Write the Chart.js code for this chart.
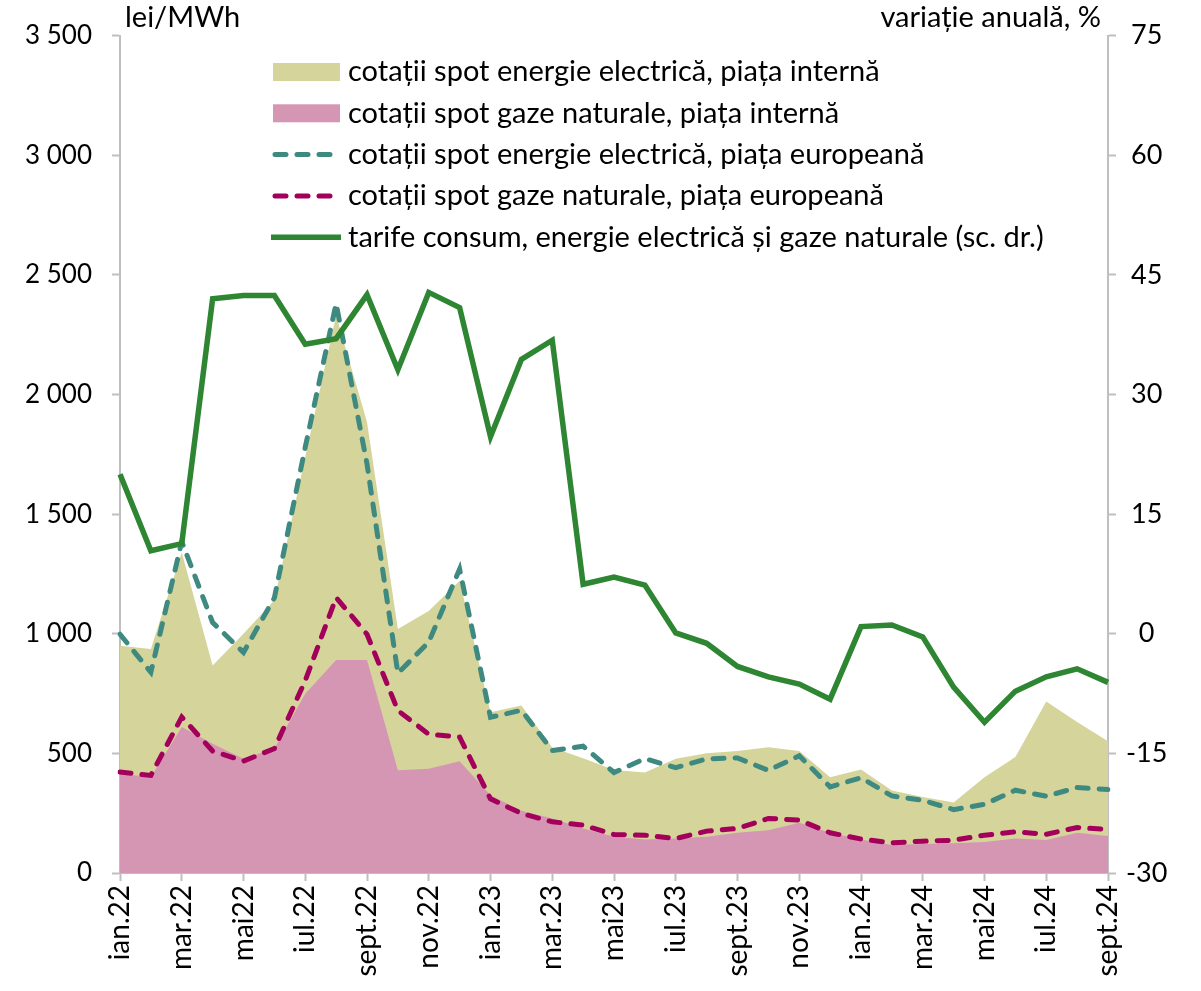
<!DOCTYPE html>
<html>
<head>
<meta charset="utf-8">
<script src="https://cdn.jsdelivr.net/npm/chart.js@4.4.1/dist/chart.umd.min.js"></script>
<style>
  html, body { margin: 0; padding: 0; background: #fff; }
  #wrap { width: 1201px; height: 991px; position: relative; }
</style>
</head>
<body>
<div id="wrap"><canvas id="chart"></canvas></div>
<script>
// months on the x axis (only every second one gets a label)
const months = ['ian.22', 'feb.22', 'mar.22', 'apr.22', 'mai22', 'iun.22', 'iul.22', 'aug.22', 'sept.22', 'oct.22', 'nov.22', 'dec.22',
  'ian.23', 'feb.23', 'mar.23', 'apr.23', 'mai23', 'iun.23', 'iul.23', 'aug.23', 'sept.23', 'oct.23', 'nov.23', 'dec.23',
  'ian.24', 'feb.24', 'mar.24', 'apr.24', 'mai24', 'iun.24', 'iul.24', 'aug.24', 'sept.24'];

// lei/MWh (left scale)
const elecInternal = [950, 936, 1340, 867, 1000, 1140, 1740, 2330, 1885, 1020, 1095, 1221, 672, 700, 525, 480, 430, 420, 478, 500, 510, 526, 510, 400, 433, 345, 318, 295, 400, 485, 717, 631, 551];
const gasInternal = [415, 401, 610, 540, 478, 520, 749, 890, 890, 429, 436, 467, 325, 260, 228, 186, 151, 140, 144, 151, 168, 179, 210, 168, 140, 117, 121, 124, 130, 144, 138, 168, 155];
const elecEurope = [998, 839, 1385, 1047, 922, 1150, 1780, 2380, 1710, 835, 965, 1270, 651, 680, 512, 530, 420, 478, 440, 477, 481, 429, 490, 360, 398, 322, 304, 265, 287, 346, 321, 357, 349];
const gasEurope = [422, 408, 652, 510, 468, 520, 804, 1151, 998, 679, 580, 568, 310, 249, 214, 200, 161, 158, 144, 175, 186, 228, 221, 168, 142, 126, 133, 137, 158, 172, 162, 190, 182];

// annual change, % (right scale)
const tariffs = [20, 10.4, 11.3, 42, 42.4, 42.4, 36.3, 37, 42.5, 33.1, 42.8, 40.9, 24.7, 34.4, 36.8, 6.2, 7.1, 6.1, 0.1, -1.2, -4.1, -5.4, -6.3, -8.2, 0.9, 1.1, -0.4, -6.7, -11.1, -7.2, -5.4, -4.4, -6.1];

const leftTicks = [0, 3500, 500];
const rightTicks = [-30, 75, 15];

const FONT = 'Lato';
const AXIS_GREY = '#bfbfbf';

function thousands(v) {
  if (v < 1000) return String(v);
  return Math.floor(v / 1000) + ' ' + String(v % 1000).padStart(3, '0');
}

// legend drawn inside the plot, plus the two axis titles
const overlay = {
  id: 'overlay',
  afterDraw(chart) {
    const ctx = chart.ctx;
    ctx.save();
    ctx.font = '29px ' + FONT;
    ctx.fillStyle = '#000';
    ctx.textBaseline = 'middle';
    ctx.textAlign = 'left';
    ctx.fillText('lei/MWh', 125, 18);
    ctx.textAlign = 'right';
    ctx.fillText('variație anuală, %', 1101, 18);

    const order = [4, 3, 2, 1, 0];
    order.forEach((idx, k) => {
      const ds = chart.data.datasets[idx];
      const y = 72 + k * 41.3;
      if (ds.fill) {
        ctx.fillStyle = ds.backgroundColor;
        ctx.fillRect(273, y - 9, 67, 18);
      } else {
        ctx.strokeStyle = ds.borderColor;
        ctx.lineWidth = ds.borderWidth;
        ctx.lineCap = ds.borderDash ? 'round' : 'butt';
        ctx.setLineDash(ds.borderDash || []);
        ctx.beginPath();
        ctx.moveTo(ds.borderDash ? 275 : 271, y);
        ctx.lineTo(341, y);
        ctx.stroke();
        ctx.setLineDash([]);
      }
      ctx.fillStyle = '#000';
      ctx.textAlign = 'left';
      ctx.fillText(ds.label, 348, y);
    });
    ctx.restore();
  }
};

new Chart(document.getElementById('chart'), {
  type: 'line',
  data: {
    labels: months,
    datasets: [
      {
        label: 'tarife consum, energie electrică și gaze naturale (sc. dr.)',
        data: tariffs,
        yAxisID: 'y1',
        borderColor: '#2e8532',
        borderWidth: 5.5,
        fill: false
      },
      {
        label: 'cotații spot gaze naturale, piața europeană',
        data: gasEurope,
        yAxisID: 'y',
        borderColor: '#a3005c',
        borderWidth: 5,
        borderDash: [11, 11],
        borderCapStyle: 'round',
        fill: false
      },
      {
        label: 'cotații spot energie electrică, piața europeană',
        data: elecEurope,
        yAxisID: 'y',
        borderColor: '#3f8a80',
        borderWidth: 5,
        borderDash: [11, 11],
        borderCapStyle: 'round',
        fill: false
      },
      {
        label: 'cotații spot gaze naturale, piața internă',
        data: gasInternal,
        yAxisID: 'y',
        borderWidth: 0,
        borderColor: 'rgba(0,0,0,0)',
        backgroundColor: '#d596b3',
        fill: 'origin'
      },
      {
        label: 'cotații spot energie electrică, piața internă',
        data: elecInternal,
        yAxisID: 'y',
        borderWidth: 0,
        borderColor: 'rgba(0,0,0,0)',
        backgroundColor: '#d5d49b',
        fill: 'origin'
      }
    ]
  },
  options: {
    responsive: true,
    maintainAspectRatio: false,
    animation: false,
    layout: { padding: { top: 33, left: 0, right: 0, bottom: 0 } },
    elements: { point: { radius: 0, hoverRadius: 0 }, line: { tension: 0 } },
    plugins: {
      legend: { display: false },
      tooltip: { enabled: false }
    },
    scales: {
      x: {
        offset: false,
        afterFit: (s) => { s.height = 118; },
        border: { color: AXIS_GREY, width: 2 },
        grid: {
          drawOnChartArea: false,
          tickLength: 8,
          tickWidth: 2,
          tickColor: (c) => (c.index % 2 === 0 ? AXIS_GREY : 'rgba(0,0,0,0)')
        },
        ticks: {
          autoSkip: false,
          maxRotation: 90,
          minRotation: 90,
          padding: 4,
          color: '#000',
          font: { family: FONT, size: 28 },
          callback: function (v, i) { return i % 2 === 0 ? this.getLabelForValue(v) : ''; }
        }
      },
      y: {
        position: 'left',
        min: leftTicks[0],
        max: leftTicks[1],
        afterFit: (s) => { s.width = 120; },
        border: { color: AXIS_GREY, width: 2 },
        grid: { drawOnChartArea: false, tickLength: 8, tickWidth: 2, color: AXIS_GREY },
        ticks: {
          stepSize: leftTicks[2],
          padding: 20,
          color: '#000',
          font: { family: FONT, size: 26 },
          callback: (v) => thousands(v)
        }
      },
      y1: {
        position: 'right',
        min: rightTicks[0],
        max: rightTicks[1],
        afterFit: (s) => { s.width = 93; },
        border: { color: AXIS_GREY, width: 2 },
        grid: { drawOnChartArea: false, tickLength: 8, tickWidth: 2, color: AXIS_GREY },
        ticks: {
          stepSize: rightTicks[2],
          padding: 10,
          crossAlign: 'center',
          color: '#000',
          font: { family: FONT, size: 27 }
        }
      }
    }
  },
  plugins: [overlay]
});
</script>
</body>
</html>
